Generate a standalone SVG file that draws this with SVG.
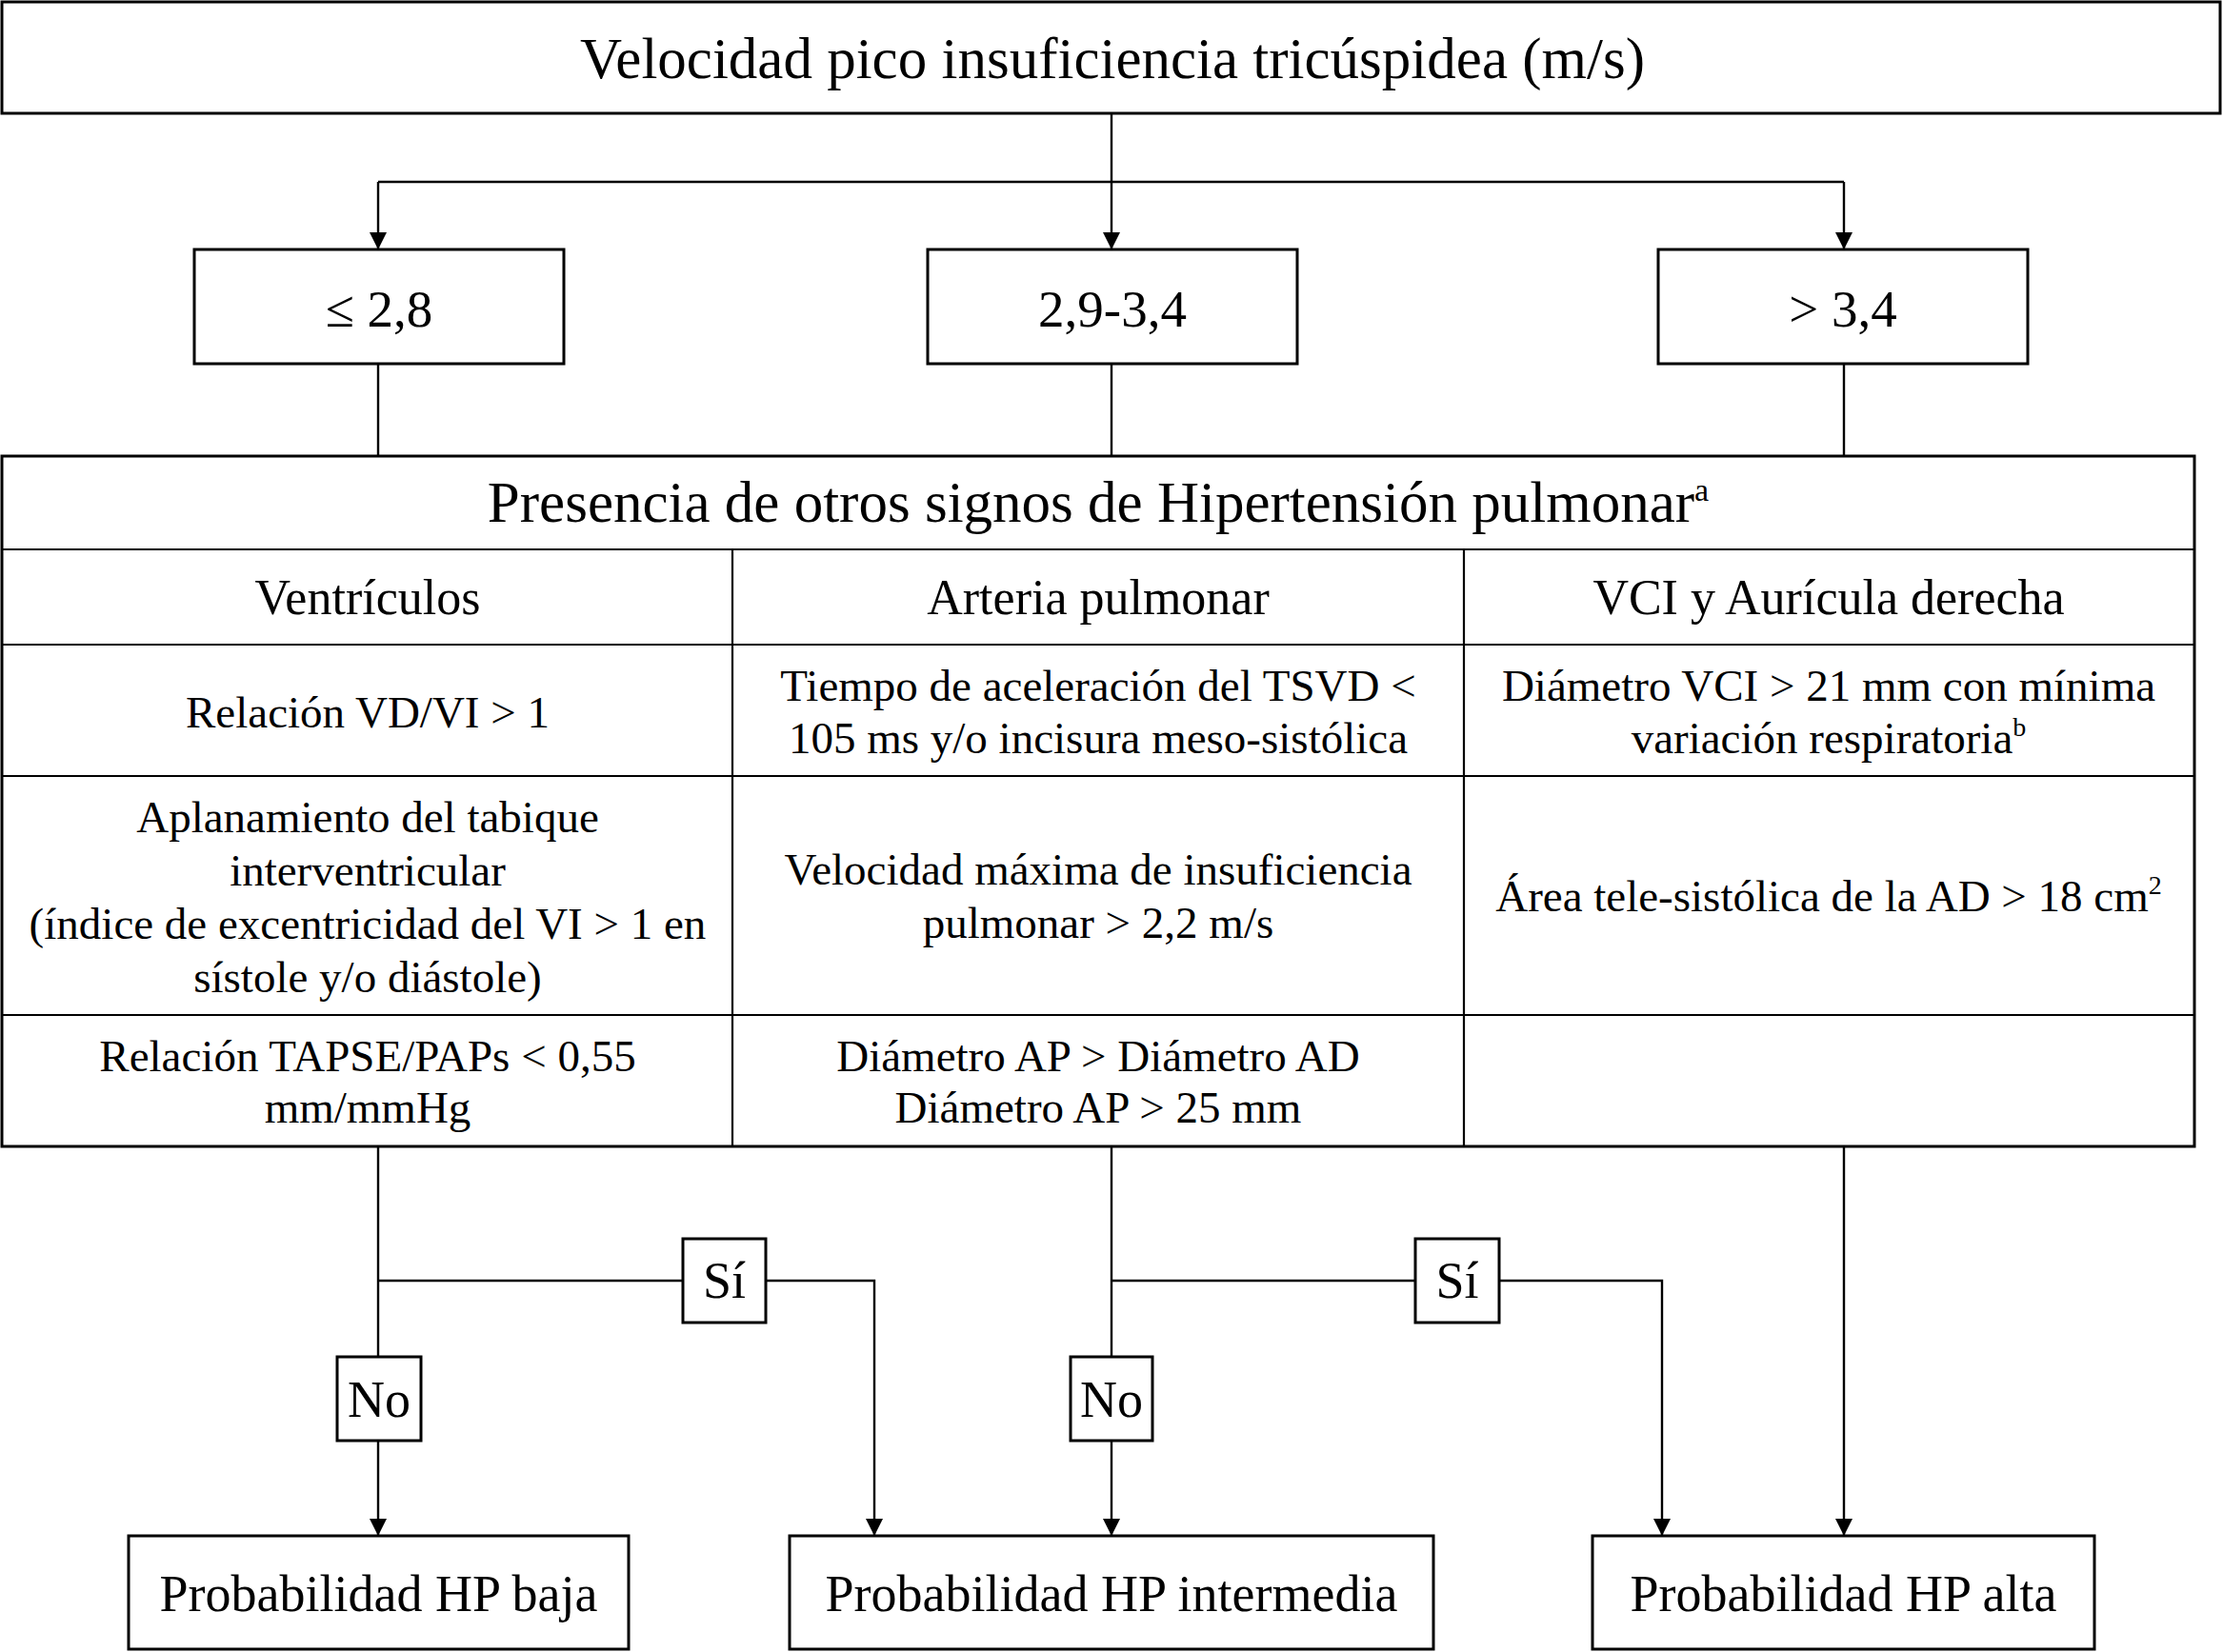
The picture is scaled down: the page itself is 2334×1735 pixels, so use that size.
<svg xmlns="http://www.w3.org/2000/svg" width="2334" height="1735" viewBox="0 0 2334 1735">
<style>
  .box { fill: #fff; stroke: #000; stroke-width: 3; }
  .grid { stroke: #000; stroke-width: 2.2; fill: none; }
  .conn { stroke: #000; stroke-width: 2.4; fill: none; }
  text { font-family: "Liberation Serif", "Times New Roman", serif; fill: #000; text-anchor: middle; }
  .t61 { font-size: 61px; }
  .t55 { font-size: 55px; }
  .t52 { font-size: 52px; }
  .t54 { font-size: 54px; }
  .t47 { font-size: 47px; }
</style>
<defs>
  <marker id="arr" markerUnits="userSpaceOnUse" markerWidth="20" markerHeight="20" refX="18" refY="9" orient="auto">
    <path d="M0,0 L18,9 L0,18 Z" fill="#000"/>
  </marker>
</defs>
<rect width="2334" height="1735" fill="#fff"/>

<g id="connectors">
  <path class="conn" d="M1167,119 V262" marker-end="url(#arr)"/>
  <path class="conn" d="M397,191 H1936"/>
  <path class="conn" d="M397,191 V262" marker-end="url(#arr)"/>
  <path class="conn" d="M1936,191 V262" marker-end="url(#arr)"/>
  <path class="conn" d="M397,382 V479"/>
  <path class="conn" d="M1167,382 V479"/>
  <path class="conn" d="M1936,382 V479"/>
  <path class="conn" d="M397,1204 V1425"/>
  <path class="conn" d="M397,1513 V1613" marker-end="url(#arr)"/>
  <path class="conn" d="M397,1345 H717"/>
  <path class="conn" d="M804,1345 H918 V1613" marker-end="url(#arr)"/>
  <path class="conn" d="M1167,1204 V1425"/>
  <path class="conn" d="M1167,1513 V1613" marker-end="url(#arr)"/>
  <path class="conn" d="M1167,1345 H1486"/>
  <path class="conn" d="M1574,1345 H1745 V1613" marker-end="url(#arr)"/>
  <path class="conn" d="M1936,1204 V1613" marker-end="url(#arr)"/>
</g>

<g id="node-top">
  <rect class="box" x="2" y="2" width="2329" height="117"/>
  <text class="t61" x="1168" y="82">Velocidad pico insuficiencia tricúspidea (m/s)</text>
</g>
<g id="node-le28">
  <rect class="box" x="204" y="262" width="388" height="120"/>
  <text class="t55" x="398" y="343">≤ 2,8</text>
</g>
<g id="node-mid">
  <rect class="box" x="974" y="262" width="388" height="120"/>
  <text class="t55" x="1168" y="343">2,9-3,4</text>
</g>
<g id="node-gt34">
  <rect class="box" x="1741" y="262" width="388" height="120"/>
  <text class="t55" x="1935" y="343">&gt; 3,4</text>
</g>

<g id="node-table">
  <rect class="box" x="2" y="479" width="2302" height="725"/>
  <path class="grid" d="M2,577 H2304 M2,677 H2304 M2,815 H2304 M2,1066 H2304 M769,577 V1204 M1537,577 V1204"/>
  <text class="t61" x="1153" y="548">Presencia de otros signos de Hipertensión pulmonar<tspan font-size="34" dy="-22">a</tspan></text>
  <text class="t52" x="386" y="645">Ventrículos</text>
  <text class="t52" x="1153" y="645">Arteria pulmonar</text>
  <text class="t52" x="1920" y="645">VCI y Aurícula derecha</text>

  <text class="t47" x="386" y="764">Relación VD/VI &gt; 1</text>
  <text class="t47" x="1153" y="736">Tiempo de aceleración del TSVD &lt;</text>
  <text class="t47" x="1153" y="791">105 ms y/o incisura meso-sistólica</text>
  <text class="t47" x="1920" y="736">Diámetro VCI &gt; 21 mm con mínima</text>
  <text class="t47" x="1920" y="791">variación respiratoria<tspan font-size="28" dy="-18">b</tspan></text>

  <text class="t47" x="386" y="874">Aplanamiento del tabique</text>
  <text class="t47" x="386" y="930">interventricular</text>
  <text class="t47" x="386" y="986">(índice de excentricidad del VI &gt; 1 en</text>
  <text class="t47" x="386" y="1042">sístole y/o diástole)</text>
  <text class="t47" x="1153" y="929">Velocidad máxima de insuficiencia</text>
  <text class="t47" x="1153" y="985">pulmonar &gt; 2,2 m/s</text>
  <text class="t47" x="1920" y="957">Área tele-sistólica de la AD &gt; 18 cm<tspan font-size="28" dy="-18">2</tspan></text>

  <text class="t47" x="386" y="1125">Relación TAPSE/PAPs &lt; 0,55</text>
  <text class="t47" x="386" y="1179">mm/mmHg</text>
  <text class="t47" x="1153" y="1125">Diámetro AP &gt; Diámetro AD</text>
  <text class="t47" x="1153" y="1179">Diámetro AP &gt; 25 mm</text>
</g>

<g id="node-si1">
  <rect class="box" x="717" y="1301" width="87" height="88"/>
  <text class="t54" x="760.5" y="1363">Sí</text>
</g>
<g id="node-si2">
  <rect class="box" x="1486" y="1301" width="88" height="88"/>
  <text class="t54" x="1530" y="1363">Sí</text>
</g>
<g id="node-no1">
  <rect class="box" x="354" y="1425" width="88" height="88"/>
  <text class="t54" x="398" y="1488">No</text>
</g>
<g id="node-no2">
  <rect class="box" x="1124" y="1425" width="86" height="88"/>
  <text class="t54" x="1167" y="1488">No</text>
</g>

<g id="node-baja">
  <rect class="box" x="135" y="1613" width="525" height="119"/>
  <text class="t54" x="397.5" y="1692">Probabilidad HP baja</text>
</g>
<g id="node-intermedia">
  <rect class="box" x="829" y="1613" width="676" height="119"/>
  <text class="t54" x="1167" y="1692">Probabilidad HP intermedia</text>
</g>
<g id="node-alta">
  <rect class="box" x="1672" y="1613" width="527" height="119"/>
  <text class="t54" x="1935.5" y="1692">Probabilidad HP alta</text>
</g>
</svg>
